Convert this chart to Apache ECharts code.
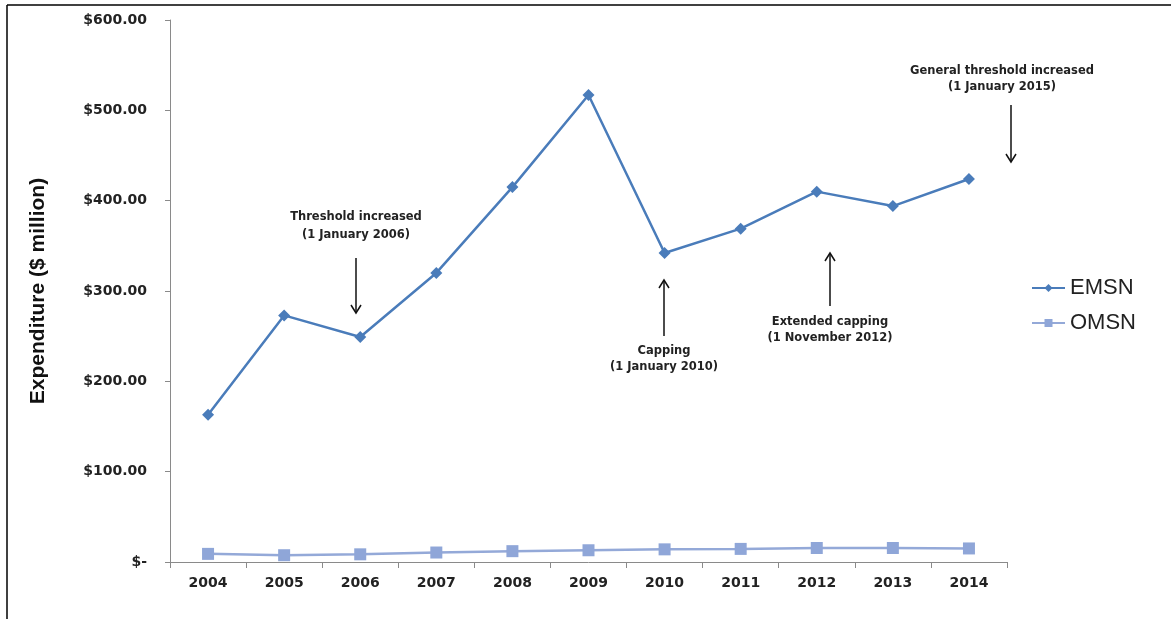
<!DOCTYPE html>
<html>
<head>
<meta charset="utf-8">
<script src="https://cdn.jsdelivr.net/npm/echarts@6/dist/echarts.min.js"></script>
<style>
html,body{margin:0;padding:0;background:#fff;}
#chart{width:1171px;height:619px;}
</style>
</head>
<body>
<div id="chart"></div>
<script>
var years = ['2004','2005','2006','2007','2008','2009','2010','2011','2012','2013','2014'];
var emsn = [163, 273, 249, 320, 415, 517, 342, 369, 410, 394, 424];
var omsn = [9, 7.5, 8.5, 10.5, 12, 13, 14, 14.5, 15.5, 15.5, 15];
var yTicks = {min: 0, max: 600, interval: 100};

var chart = echarts.init(document.getElementById('chart'));
var font = '"DejaVu Sans", "Liberation Sans", sans-serif';

function arrow(x, y1, y2) {
  var dir = y2 > y1 ? 1 : -1;
  return [
    {type: 'line', shape: {x1: x, y1: y1, x2: x, y2: y2}, style: {stroke: '#111', lineWidth: 1.5}},
    {type: 'polyline', shape: {points: [[x - 5, y2 - dir * 8], [x, y2], [x + 5, y2 - dir * 8]]}, style: {stroke: '#111', lineWidth: 1.5, fill: null}}
  ];
}
function label(x, y, text) {
  return {type: 'text', x: x, y: y, style: {text: text, font: 'bold 11.5px ' + font, fill: '#222', textAlign: 'center', textVerticalAlign: 'middle'}};
}

var graphics = [
  {type: 'line', shape: {x1: 7, y1: 5, x2: 1171, y2: 5}, style: {stroke: '#000', lineWidth: 1.5}},
  {type: 'line', shape: {x1: 7, y1: 5, x2: 7, y2: 619}, style: {stroke: '#000', lineWidth: 1.5}},
  label(356, 217, 'Threshold increased'),
  label(356, 235, '(1 January 2006)'),
  label(1002, 71, 'General threshold increased'),
  label(1002, 87, '(1 January 2015)'),
  label(664, 351, 'Capping'),
  label(664, 367, '(1 January 2010)'),
  label(830, 322, 'Extended capping'),
  label(830, 338, '(1 November 2012)')
].concat(arrow(356, 258, 313), arrow(1011, 105, 162), arrow(664, 336, 280), arrow(830, 306, 253));

chart.setOption({
  animation: false,
  backgroundColor: '#fff',
  grid: {left: 170, top: 20, right: 164, bottom: 57, containLabel: false},
  legend: {
    orient: 'vertical', left: 1026, top: 272, itemGap: 13,
    itemWidth: 33, itemHeight: 10,
    textStyle: {fontFamily: '"Liberation Sans", Arial, sans-serif', fontSize: 22, color: '#222'},
    data: ['EMSN', 'OMSN']
  },
  xAxis: {
    type: 'category', data: years, boundaryGap: true,
    axisLine: {lineStyle: {color: '#8a8a8a', width: 1}},
    axisTick: {show: true, length: 6, lineStyle: {color: '#8a8a8a'}},
    axisLabel: {fontFamily: font, fontWeight: 'bold', fontSize: 14, color: '#222', margin: 14}
  },
  yAxis: {
    type: 'value', min: yTicks.min, max: yTicks.max, interval: yTicks.interval,
    name: 'Expenditure ($ million)', nameLocation: 'middle', nameGap: 121, nameRotate: 90,
    nameTextStyle: {fontFamily: '"Liberation Sans Narrow", "Liberation Sans", sans-serif', fontWeight: 'bold', fontSize: 21, color: '#111'},
    axisLine: {show: true, lineStyle: {color: '#8a8a8a', width: 1}},
    axisTick: {show: true, length: 5, lineStyle: {color: '#8a8a8a'}},
    splitLine: {show: false},
    axisLabel: {
      fontFamily: font, fontWeight: 'bold', fontSize: 14, color: '#222', margin: 23,
      formatter: function (v) { return v === 0 ? '$-' : '$' + v.toFixed(2); }
    }
  },
  series: [
    {
      name: 'EMSN', type: 'line', data: emsn,
      symbol: 'diamond', symbolSize: 12,
      lineStyle: {color: '#4A7CBA', width: 2.5},
      itemStyle: {color: '#4A7CBA'}
    },
    {
      name: 'OMSN', type: 'line', data: omsn,
      symbol: 'rect', symbolSize: 12,
      lineStyle: {color: '#94A9D8', width: 2.5},
      itemStyle: {color: '#8FA6D8'}
    }
  ],
  graphic: graphics
});
</script>
</body>
</html>
